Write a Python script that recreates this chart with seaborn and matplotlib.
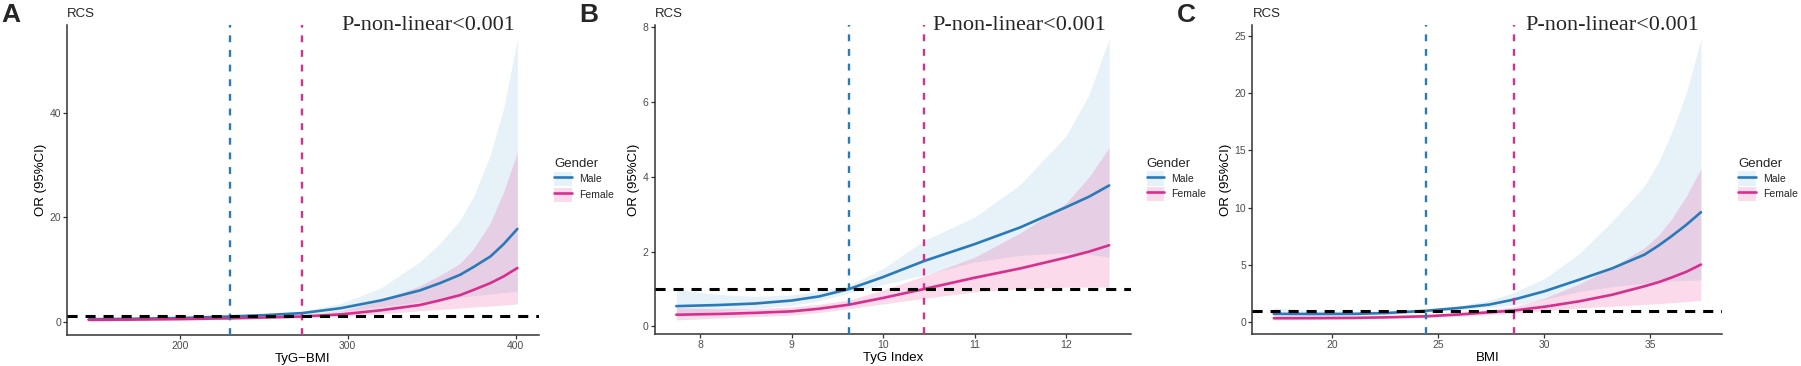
import numpy as np
import pandas as pd
import matplotlib
matplotlib.use("Agg")
import matplotlib.pyplot as plt
from matplotlib.patches import Patch
from matplotlib.lines import Line2D
import seaborn as sns

# ---------------- data ----------------
# Panel A: TyG-BMI
a_x = [145.6, 170, 200, 229.9, 250, 272.9, 296, 320, 343, 355, 367, 375, 385, 393, 401.1]
a_male = [0.45, 0.55, 0.7, 1.0, 1.25, 1.65, 2.6, 4.1, 6.0, 7.4, 9.0, 10.5, 12.5, 14.9, 17.8]
a_male_lo = [0.2, 0.35, 0.55, 0.85, 1.1, 1.35, 2.0, 2.9, 3.8, 4.3, 4.7, 5.0, 5.3, 5.6, 5.8]
a_male_hi = [1.0, 0.9, 0.9, 1.15, 1.45, 2.0, 3.5, 6.5, 11.5, 15.0, 19.5, 24.0, 32.0, 41.0, 54.2]
a_female = [0.35, 0.4, 0.5, 0.65, 0.8, 1.0, 1.4, 2.2, 3.2, 4.1, 5.1, 6.1, 7.4, 8.7, 10.3]
a_female_lo = [0.15, 0.2, 0.3, 0.45, 0.6, 0.75, 1.0, 1.5, 2.1, 2.35, 2.6, 2.8, 3.0, 3.2, 3.4]
a_female_hi = [0.8, 0.75, 0.8, 0.9, 1.05, 1.3, 2.1, 4.0, 6.9, 8.9, 11.2, 14.0, 19.0, 25.0, 32.5]
a_cuts = [229.9, 272.9]

# Panel B: TyG Index
b_x = [7.74, 8.2, 8.6, 9.0, 9.3, 9.63, 10.0, 10.45, 11.0, 11.5, 12.0, 12.25, 12.47]
b_male = [0.54, 0.57, 0.61, 0.69, 0.8, 1.0, 1.32, 1.75, 2.2, 2.65, 3.19, 3.47, 3.77]
b_male_lo = [0.3, 0.4, 0.48, 0.56, 0.68, 0.9, 1.12, 1.38, 1.72, 1.9, 1.97, 1.93, 1.85]
b_male_hi = [0.98, 0.85, 0.8, 0.84, 0.94, 1.1, 1.55, 2.3, 2.92, 3.8, 5.1, 6.2, 7.69]
b_female = [0.31, 0.33, 0.36, 0.4, 0.47, 0.58, 0.76, 1.0, 1.3, 1.55, 1.84, 2.0, 2.17]
b_female_lo = [0.17, 0.22, 0.26, 0.3, 0.37, 0.47, 0.6, 0.75, 0.92, 1.0, 1.05, 1.05, 1.05]
b_female_hi = [0.5, 0.47, 0.47, 0.52, 0.59, 0.71, 0.97, 1.35, 1.85, 2.5, 3.3, 4.0, 4.78]
b_cuts = [9.63, 10.45]

# Panel C: BMI
c_x = [17.23, 19, 21, 22.5, 24.41, 26, 27.4, 28.56, 30, 31.66, 33.2, 34.73, 35.4, 36, 36.7, 37.39]
c_male = [0.73, 0.72, 0.73, 0.8, 1.0, 1.25, 1.54, 1.98, 2.7, 3.72, 4.7, 5.9, 6.7, 7.5, 8.5, 9.6]
c_male_lo = [0.4, 0.5, 0.55, 0.65, 0.9, 1.1, 1.3, 1.5, 2.0, 2.7, 3.1, 3.4, 3.5, 3.6, 3.65, 3.7]
c_male_hi = [1.25, 1.05, 0.98, 1.0, 1.1, 1.45, 1.9, 2.6, 3.8, 6.0, 8.8, 11.9, 14.0, 16.5, 20.0, 24.7]
c_female = [0.35, 0.36, 0.38, 0.43, 0.52, 0.68, 0.87, 1.02, 1.35, 1.83, 2.4, 3.14, 3.5, 3.9, 4.4, 5.03]
c_female_lo = [0.2, 0.23, 0.27, 0.32, 0.4, 0.52, 0.65, 0.78, 1.0, 1.25, 1.4, 1.55, 1.62, 1.7, 1.8, 1.9]
c_female_hi = [0.55, 0.52, 0.52, 0.56, 0.65, 0.85, 1.1, 1.35, 2.1, 3.35, 4.8, 6.5, 7.6, 9.0, 11.0, 13.4]
c_cuts = [24.41, 28.56]

panel_letters = ["A", "B", "C"]
x_labels = ["TyG\u2212BMI", "TyG Index", "BMI"]
x_ticks = [[200, 300, 400], [8, 9, 10, 11, 12], [20, 25, 30, 35]]
y_ticks = [[0, 20, 40], [0, 2, 4, 6, 8], [0, 5, 10, 15, 20, 25]]
genders = ["Male", "Female"]
p_text = "P-non-linear<0.001"

# ---------------- style ----------------
sns.set_style("ticks")
plt.rcParams["font.family"] = ["Liberation Sans", "DejaVu Sans"]

blue = "#2a7ab8"
pink = "#d6308e"
blue_fill = "#6BAED6"
pink_fill = "#E7298A"
fill_alpha = 0.17
palette = {"Male": blue, "Female": pink}
axis_col = "#333333"
tick_lab_col = "#4D4D4D"

W, H = 1801, 366
fig = plt.figure(figsize=(W / 100, H / 100), dpi=100)

# axes boxes in pixels: left, right, top, bottom
boxes = [(67.3, 538.8, 25, 335), (654.7, 1130.8, 25, 334), (1252.4, 1722.3, 25, 334)]
letter_x = [1, 579, 1177]

panels = [
    (a_x, a_male, a_male_lo, a_male_hi, a_female, a_female_lo, a_female_hi, a_cuts),
    (b_x, b_male, b_male_lo, b_male_hi, b_female, b_female_lo, b_female_hi, b_cuts),
    (c_x, c_male, c_male_lo, c_male_hi, c_female, c_female_lo, c_female_hi, c_cuts),
]

for i, (px, m, mlo, mhi, f, flo, fhi, cuts) in enumerate(panels):
    l, r, t, b = boxes[i]
    ax = fig.add_axes([l / W, 1 - b / H, (r - l) / W, (b - t) / H])

    ax.fill_between(px, mlo, mhi, color=blue_fill, alpha=fill_alpha, lw=0, zorder=1)
    ax.fill_between(px, flo, fhi, color=pink_fill, alpha=fill_alpha, lw=0, zorder=1)

    df = pd.DataFrame({
        "x": list(px) * 2,
        "OR": list(m) + list(f),
        "Gender": ["Male"] * len(px) + ["Female"] * len(px),
    })
    sns.lineplot(data=df, x="x", y="OR", hue="Gender", hue_order=genders,
                 palette=palette, linewidth=1.9, legend=False, ax=ax, zorder=3)

    ax.axvline(cuts[0], color=blue, lw=1.7, ls=(0, (2.9, 3.3)), zorder=4)
    ax.axvline(cuts[1], color=pink, lw=1.7, ls=(0, (2.9, 3.3)), zorder=4)
    ax.axhline(1, color="black", lw=2.2, ls=(0, (3.3, 2.6)), zorder=5)

    ax.margins(x=0.05, y=0.05)
    ax.set_xticks(x_ticks[i])
    ax.set_yticks(y_ticks[i])
    ax.set_xlabel(x_labels[i], fontsize=9.5, color="black", labelpad=1)
    ax.set_ylabel("OR (95%CI)", fontsize=9.5, color="black", labelpad=2)
    ax.set_title("RCS", loc="left", fontsize=9.5, pad=6)
    ax.tick_params(axis="both", labelsize=7.5, colors=axis_col, labelcolor=tick_lab_col,
                   length=3, width=0.9, pad=1.5)
    for s in ["top", "right"]:
        ax.spines[s].set_visible(False)
    for s in ["left", "bottom"]:
        ax.spines[s].set_color(axis_col)
        ax.spines[s].set_linewidth(1.1)

    ax.text(0.765, 1.0, p_text, transform=ax.transAxes, ha="center", va="center",
            fontsize=16, family=["Liberation Serif", "DejaVu Serif"], zorder=6)

    handles = [
        (Patch(facecolor=blue_fill, alpha=fill_alpha, edgecolor="none"),
         Line2D([], [], color=blue, lw=1.9)),
        (Patch(facecolor=pink_fill, alpha=fill_alpha, edgecolor="none"),
         Line2D([], [], color=pink, lw=1.9)),
    ]
    leg = ax.legend(handles, genders, title="Gender", loc="center left",
                    bbox_to_anchor=(1.02, 0.5), frameon=False, fontsize=7.5,
                    title_fontsize=9.5, handlelength=1.7, handleheight=1.7,
                    handletextpad=0.7, labelspacing=0.15, borderaxespad=0.2)
    leg._legend_box.align = "left"

    fig.text(letter_x[i] / W, 1 - 15 / H, panel_letters[i], fontsize=19,
             fontweight="bold", ha="left", va="center")

fig.savefig("out.png", dpi=100)
